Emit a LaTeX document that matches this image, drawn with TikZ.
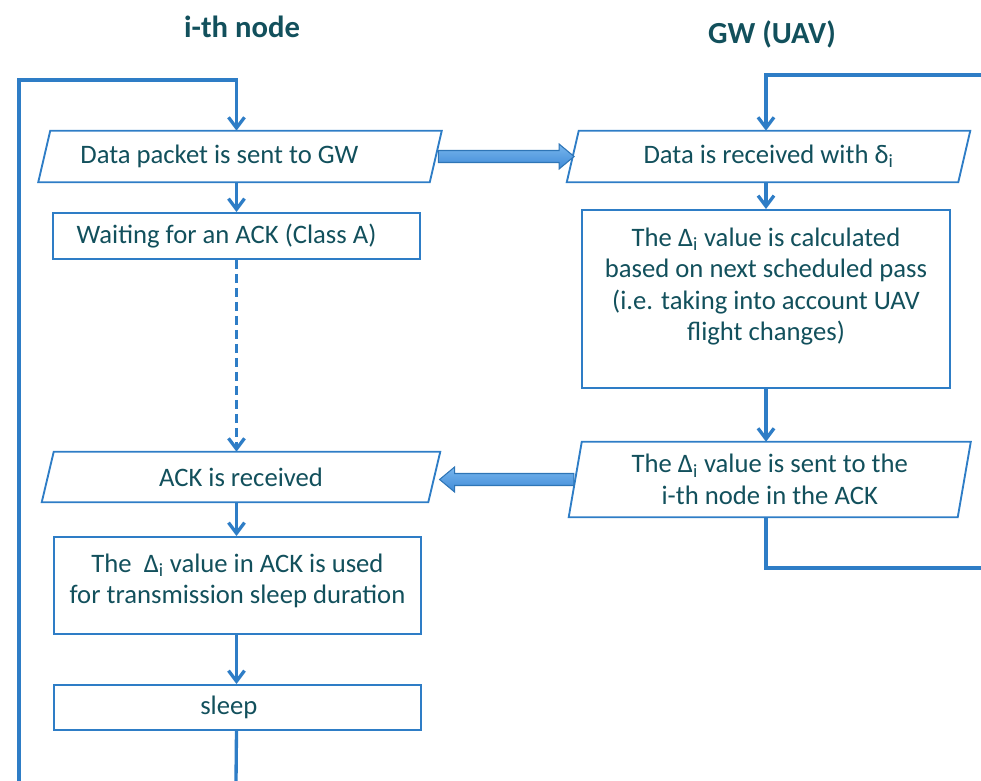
\documentclass[tikz,border=0pt]{standalone}
\usepackage{fontspec}
\setmainfont{Carlito}
\usetikzlibrary{arrows.meta,calc}
\definecolor{lblue}{HTML}{2E7DC6}
\definecolor{tcol}{HTML}{12505C}
\definecolor{afill}{HTML}{3F8AD6}
\definecolor{afilllt}{HTML}{78B6EE}
\definecolor{aline}{HTML}{2E75B6}
\newcommand\parabox[2]{\draw[pline] ([xshift=#2]#1.north west) -- ([xshift=#2]#1.north east) -- ([xshift=-#2]#1.south east) -- ([xshift=-#2]#1.south west) -- cycle;}
\tikzset{
  txt/.style={text=tcol,font=\fontsize{20}{23.6}\selectfont,align=center,inner sep=0pt},
  shp/.style={txt,draw=lblue,line width=1.4pt},
  ghost/.style={txt,draw=none},
  pline/.style={draw=lblue,line width=1.4pt},
  ttl/.style={text=tcol,font=\fontsize{23}{27}\selectfont\bfseries,inner sep=0pt},
  conn/.style={draw=lblue,line width=2.5pt},
  arr/.style={conn,-{Straight Barb[length=8pt,width=12pt]}},
  dsh/.style={arr,dash pattern=on 7pt off 3.5pt},
  blk/.style={draw=aline,line width=0.8pt,top color=afilllt,bottom color=afill}
}
\begin{document}
\begin{tikzpicture}[x=0.75pt,y=-0.75pt]
\useasboundingbox (0,0) rectangle (981,781);
% titles
\node[ttl] (t1) at (242,27) {i-th node};
\node[ttl] (t2) at (772,34) {GW (UAV)};
% left column
\node[ghost,minimum width=391*0.75pt,minimum height=51*0.75pt] (p1) at (240,156.5) {Data packet is sent to GW\hspace{31pt}};
\parabox{p1}{4.5pt}
\node[shp,minimum width=367*0.75pt,minimum height=46*0.75pt] (b2) at (236.5,236) {Waiting for an ACK (Class A)\hspace{15pt}};
\node[ghost,minimum width=386*0.75pt,minimum height=50*0.75pt] (p3) at (241,477) {ACK is received};
\parabox{p3}{4.5pt}
\node[shp,minimum width=367*0.75pt,minimum height=97*0.75pt] (b4) at (237.5,585.5) {};
\node[ghost] (b4t) at ([yshift=3.4pt]b4.center) {The \ Δ\textsubscript{i} value in ACK is used\\for transmission sleep duration};
\node[shp,minimum width=367*0.75pt,minimum height=45*0.75pt] (b5) at (237.5,707.5) {sleep\hspace{13pt}};
% right column
\node[ghost,minimum width=391*0.75pt,minimum height=51*0.75pt] (q1) at (768.5,156.5) {Data is received with δ\textsubscript{i}};
\parabox{q1}{4.5pt}
\node[shp,minimum width=368*0.75pt,minimum height=178*0.75pt] (q2) at (766,299) {};
\node[ghost] (q2t) at ([yshift=9.4pt]q2.center) {The Δ\textsubscript{i} value is calculated\\based on next scheduled pass\\(i.e. taking into account UAV\\flight changes)};
\node[ghost,minimum width=388.5*0.75pt,minimum height=75*0.75pt] (q3) at (769.75,479.5) {The Δ\textsubscript{i} value is sent to the\\i-th node in the ACK};
\parabox{q3}{4.9pt}
% free ends
\coordinate (lb) at (19,781);
\coordinate (lt) at (19,80);
\coordinate (sb) at (236,781);
\coordinate (rt) at (981,75);
\coordinate (rb) at (981,568);
% left connectors
\draw[arr] (lb) -- (lt) -| (b2.north |- p1.north);
\draw[arr] (b2.north |- p1.south) -- (b2.north);
\draw[dsh] (b2.south) -- (b2.south |- p3.north);
\draw[arr] (b2.south |- p3.south) -- (b4.north -| b2.south);
\draw[arr] (b4.south -| b2.south) -- (b5.north -| b2.south);
\draw[conn] (b5.south -| b2.south) -- (sb);
% right connectors
\draw[arr] (rt) -| (q2.north |- q1.north);
\draw[arr] (q2.north |- q1.south) -- (q2.north);
\draw[arr] (q2.south) -- (q2.south |- q3.north);
\draw[conn] (q2.south |- q3.south) |- (rb);
% block arrows
\coordinate (a1) at ([xshift=2pt]p1.east);
\coordinate (a2) at ([xshift=1pt]q1.west);
\draw[blk] ($(a1)+(0,-6)$) -- ($(a2)+(-15,-6)$) -- ($(a2)+(-15,-12.5)$) -- (a2) -- ($(a2)+(-15,12.5)$) -- ($(a2)+(-15,6)$) -- ($(a1)+(0,6)$) -- cycle;
\coordinate (c1) at ([xshift=-1pt]q3.west);
\coordinate (c2) at ([xshift=4pt]p3.east |- q3.west);
\draw[blk] ($(c1)+(0,-6)$) -- ($(c2)+(15,-6)$) -- ($(c2)+(15,-12.5)$) -- (c2) -- ($(c2)+(15,12.5)$) -- ($(c2)+(15,6)$) -- ($(c1)+(0,6)$) -- cycle;
\end{tikzpicture}
\end{document}
